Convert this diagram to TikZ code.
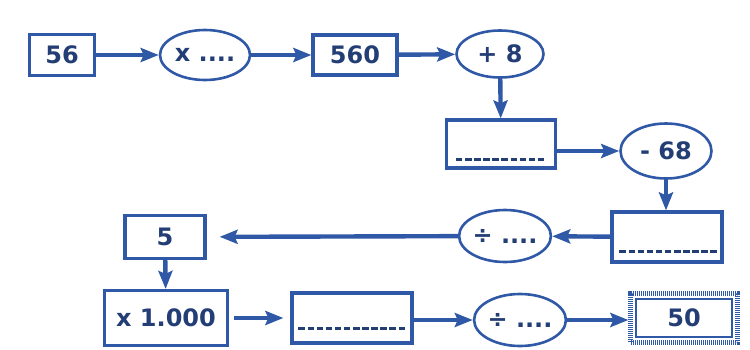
\documentclass[tikz,border=0pt]{standalone}
\usepackage{fontspec}
\setmainfont{DejaVu Sans}
\usetikzlibrary{arrows.meta,shapes.geometric}
\definecolor{lineblue}{HTML}{2F58A6}
\definecolor{textblue}{HTML}{233D75}
\begin{document}
\begin{tikzpicture}[x=1pt,y=-1pt,
  box/.style={draw=lineblue, line width=3.2pt, rectangle, inner sep=0pt,
    font=\fontsize{24}{26}\selectfont\bfseries, text=textblue},
  oval/.style={draw=lineblue, line width=2.6pt, ellipse, inner sep=0pt,
    font=\fontsize{24}{26}\selectfont\bfseries, text=textblue},
  arr/.style={draw=lineblue, line width=4.4pt,
    -{Stealth[length=18pt,width=14pt,inset=3pt]}},
  blank/.style={draw=textblue, line width=3pt, dash pattern=on 6.5pt off 2.6pt}]
\useasboundingbox (0,0) rectangle (750,349);
% row 1
\node[box, minimum width=65, minimum height=41] (n56) at (62,55) {56};
\node[oval, minimum width=90, minimum height=50] (mul) at (205,55) {x ....};
\node[box, minimum width=84, minimum height=40] (n560) at (355,55) {560};
\node[oval, minimum width=87, minimum height=47] (plus) at (500,54) {+ 8};
% row 2
\node[box, minimum width=109, minimum height=48] (b1) at (501,144) {};
\node[oval, minimum width=91, minimum height=55] (minus) at (666,151) {- 68};
% row 3
\node[box, minimum width=110, minimum height=50] (b2) at (667,237) {};
\node[oval, minimum width=86, minimum height=52] (div1) at (505,236) {÷ ....};
\node[box, minimum width=80, minimum height=43] (n5) at (165,237) {5};
% row 4
\node[box, minimum width=123, minimum height=55] (mil) at (166,318) {x 1.000};
\node[box, minimum width=120, minimum height=50] (b3) at (352,318) {};
\node[oval, minimum width=85, minimum height=52] (div2) at (520,320) {÷ ....};
\node[box, minimum width=108, minimum height=50, draw=none] (n50) at (684,318) {50};
\draw[lineblue, line width=5pt, dash pattern=on 1.2pt off 0.8pt]
  ([xshift=2.5pt,yshift=2.5pt]n50.south west) rectangle ([xshift=-2.5pt,yshift=-2.5pt]n50.north east);
\draw[lineblue, line width=2pt]
  ([xshift=7.5pt,yshift=7.5pt]n50.south west) rectangle ([xshift=-7.5pt,yshift=-7.5pt]n50.north east);
% blanks
\draw[blank] ([xshift=11pt,yshift=10pt]b1.south west) -- ([xshift=-11pt,yshift=10pt]b1.south east);
\draw[blank] ([xshift=9pt,yshift=12pt]b2.south west) -- ([xshift=-7pt,yshift=12pt]b2.south east);
\draw[blank] ([xshift=8pt,yshift=16pt]b3.south west) -- ([xshift=-7pt,yshift=16pt]b3.south east);
% arrows
\draw[arr] (n56) -- (mul);
\draw[arr] (mul) -- (n560);
\draw[arr] (n560) -- (plus);
\draw[arr] (plus) -- (b1);
\draw[arr] (b1.east |- minus) -- (minus);
\draw[arr] (minus.south) -- (b2.north -| minus.south);
\draw[arr] (b2) -- (div1);
\draw[arr, shorten >=13pt] (div1) -- (n5);
\draw[arr] (n5) -- (mil);
\draw[arr, shorten <=5pt, shorten >=7pt] (mil.east) -- (b3.west |- mil.east);
\draw[arr] (b3.east |- div2) -- (div2);
\draw[arr] (div2) -- (n50.west |- div2);
\end{tikzpicture}
\end{document}
